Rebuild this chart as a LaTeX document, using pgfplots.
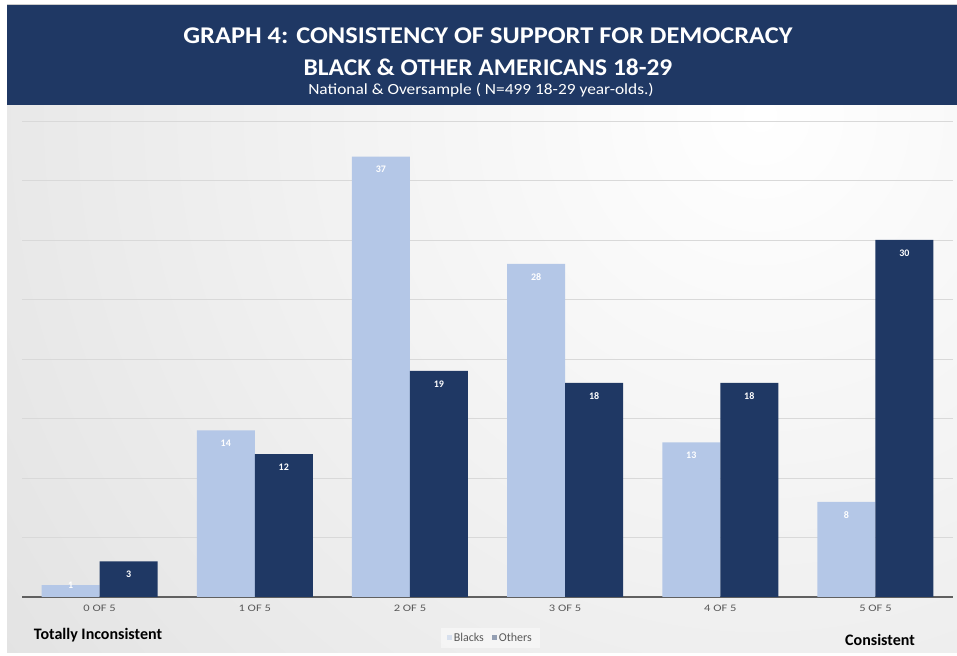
\documentclass[border=0pt]{standalone}
\usepackage{pgfplots}
\pgfplotsset{compat=1.18}
\usepackage{graphicx}
\usepackage{fontspec}
\setmainfont{Carlito}
\definecolor{navy}{HTML}{1F3864}
\definecolor{lblue}{HTML}{B4C7E7}
\definecolor{tickgray}{HTML}{595959}
\definecolor{gridgray}{HTML}{D9D9D9}
\definecolor{panelgray}{HTML}{C6C6C6}
\begin{document}
\begin{tikzpicture}[x=1pt,y=1pt]
\useasboundingbox (0,0) rectangle (957,655);
% background panel with radial gradient
\begin{scope}
\clip (7,3) rectangle (957,550);
\shade[inner color=white, outer color=panelgray] (760,540) circle (1900);
\end{scope}
% title banner
\fill[navy] (7,550) rectangle (957,650);
\draw[gray!40, line width=0.8pt] (7,650.4) -- (957,650.4);
\node[text=white, font=\fontsize{24}{26}\selectfont\bfseries] at (488,619) {\scalebox{1.1}[1]{GRAPH 4: CONSISTENCY OF SUPPORT FOR DEMOCRACY}};
\node[text=white, font=\fontsize{24}{26}\selectfont\bfseries] at (488,588) {\scalebox{1.06}[1]{BLACK \& OTHER AMERICANS 18-29}};
\node[text=white, font=\fontsize{15.5}{17}\selectfont] at (481,565) {\scalebox{1.12}[1]{National \& Oversample ( N=499 18-29 year-olds.)}};
\begin{axis}[
  at={(22pt,58pt)}, anchor=south west,
  scale only axis, width=931pt, height=491pt,
  ybar=0pt, bar width=58pt,
  xmin=-0.5, xmax=5.5, ymin=0, ymax=41.26,
  xtick={0,1,2,3,4,5},
  xticklabels={\scalebox{1.25}[1]{0 OF 5},\scalebox{1.25}[1]{1 OF 5},\scalebox{1.25}[1]{2 OF 5},\scalebox{1.25}[1]{3 OF 5},\scalebox{1.25}[1]{4 OF 5},\scalebox{1.25}[1]{5 OF 5}},
  xticklabel style={font=\fontsize{10}{11}\selectfont, text=tickgray, yshift=-4pt},
  ytick={5,10,15,20,25,30,35,40}, yticklabels={},
  ymajorgrids, grid style={gridgray, line width=0.9pt},
  extra y ticks={0}, extra y tick labels={},
  extra y tick style={grid style={gray!75!black, line width=1.2pt}},
  major tick length=0pt,
  axis line style={draw=none},
  /pgf/number format/assume math mode=true,
  nodes near coords,
  visualization depends on={y \as \rawy},
  every node near coord/.append style={font=\fontsize{10}{11}\selectfont\bfseries, text=white, anchor=center,
     yshift={ifthenelse(\rawy<2,0,-13)}},
  legend style={at={(0.503,-0.0835)}, anchor=center, legend columns=2,
     fill=white, fill opacity=0.45, text opacity=1, draw=none,
     font=\fontsize{12}{13}\selectfont, text=tickgray, inner ysep=3pt, inner xsep=6pt,
     /tikz/every even column/.append style={column sep=6pt}},
  legend image code/.code={\fill[#1] (3pt,-2.5pt) rectangle (8pt,2.5pt);},
]
\addplot[fill=lblue, draw=none] coordinates {(0,1) (1,14) (2,37) (3,28) (4,13) (5,8)};
\addplot[fill=navy, draw=none] coordinates {(0,3) (1,12) (2,19) (3,18) (4,18) (5,30)};
\legend{Blacks, Others}
\end{axis}
\node[font=\fontsize{16}{18}\selectfont\bfseries] at (98,20) {Totally Inconsistent};
\node[font=\fontsize{16}{18}\selectfont\bfseries] at (880,15) {Consistent};
\end{tikzpicture}
\end{document}
